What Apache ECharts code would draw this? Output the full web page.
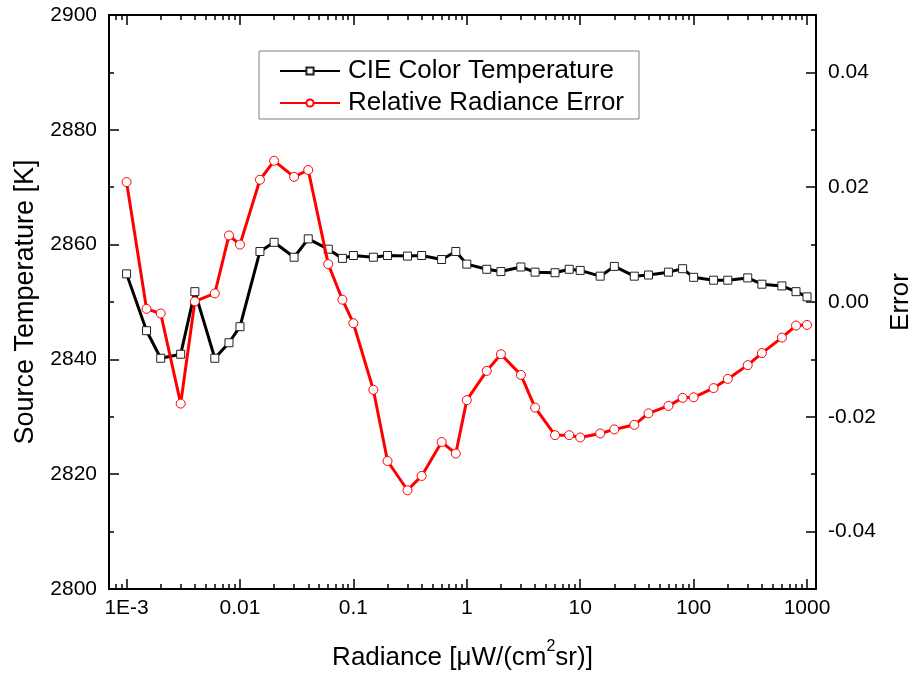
<!DOCTYPE html>
<html>
<head>
<meta charset="utf-8">
<script src="https://cdn.jsdelivr.net/npm/echarts@6/dist/echarts.min.js"></script>
<style>
html,body{margin:0;padding:0;background:#fff;overflow:hidden;}
#chart{width:913px;height:673px;}
</style>
</head>
<body>
<div id="chart"></div>
<script>
// ---- data ----
var radiance = [0.001,0.0015,0.002,0.003,0.004,0.006,0.008,0.01,0.015,0.02,0.03,0.04,0.06,0.08,0.1,0.15,0.2,0.3,0.4,0.6,0.8,1,1.5,2,3,4,6,8,10,15,20,30,40,60,80,100,150,200,300,400,600,800,1000];
var cieTemperature = [2854.9,2845.0,2840.2,2840.9,2851.8,2840.2,2842.9,2845.7,2858.8,2860.4,2857.8,2861.0,2859.2,2857.6,2858.1,2857.8,2858.1,2858.0,2858.1,2857.4,2858.8,2856.6,2855.7,2855.3,2856.1,2855.2,2855.1,2855.7,2855.5,2854.5,2856.2,2854.5,2854.7,2855.2,2855.8,2854.3,2853.8,2853.8,2854.2,2853.1,2852.8,2851.8,2850.9];
var radianceError = [0.0209,-0.0012,-0.0020,-0.0177,0.0001,0.0015,0.0116,0.0100,0.0213,0.0246,0.0218,0.0230,0.0066,0.0004,-0.0037,-0.0153,-0.0277,-0.0328,-0.0303,-0.0244,-0.0264,-0.0171,-0.0120,-0.0091,-0.0127,-0.0184,-0.0232,-0.0232,-0.0236,-0.0229,-0.0222,-0.0214,-0.0194,-0.0181,-0.0167,-0.0166,-0.0150,-0.0134,-0.0110,-0.0089,-0.0062,-0.0041,-0.0040];
var xTickValues = [0.001,0.01,0.1,1,10,100,1000];
var xTickLabels = ['1E-3','0.01','0.1','1','10','100','1000'];
var errTickValues = [-0.04,-0.02,0,0.02,0.04];
var errTickLabels = ['-0.04','-0.02','0.00','0.02','0.04'];
var seriesNames = ['CIE Color Temperature','Relative Radiance Error'];

// ---- layout ----
var X_MIN = 0.0007, X_MAX = 1200;
var minorX = [];
[0.0001,0.001,0.01,0.1,1,10,100,1000].forEach(function(d){
  for (var k=2;k<=9;k++){ var v=+(d*k).toPrecision(3); if (v>=X_MIN && v<=X_MAX) minorX.push(v); }
});
var minorErr = [-0.05,-0.03,-0.01,0.01,0.03,0.05];
var FONT = 'Arial, "Liberation Sans", sans-serif';
var lineC = '#000';

function xAxisBase(pos, major, showLine){
  return {
    type:'log', logBase:10, min:X_MIN, max:X_MAX, position:pos, gridIndex:0,
    axisLine:{show:showLine, onZero:false, lineStyle:{color:lineC,width:2}},
    axisTick:{show:true, inside:true, length: major?10:5, lineStyle:{color:lineC,width:1.5},
      customValues: major?xTickValues:minorX},
    axisLabel:{show:false},
    splitLine:{show:false}, minorTick:{show:false}, minorSplitLine:{show:false}
  };
}
var xMain = xAxisBase('bottom', true, true);
xMain.axisLabel = {show:true, customValues:xTickValues, margin:9, color:'#000', fontFamily:FONT, fontSize:21,
  formatter:function(v){ for (var i=0;i<xTickValues.length;i++){ if (Math.abs(Math.log10(v)-Math.log10(xTickValues[i]))<1e-6) return xTickLabels[i]; } return ''; }};
xMain.name = 'Radiance [μW/(cm{sup|2}sr)]';
xMain.nameLocation = 'middle';
xMain.nameGap = 50;
xMain.nameTextStyle = {color:'#000', fontFamily:FONT, fontSize:26,
  rich:{sup:{fontSize:16, fontFamily:FONT, color:'#000', padding:[0,0,22,0]}}};

var option = {
  animation:false,
  backgroundColor:'#fff',
  grid:{left:109, right:97, top:15, bottom:84, containLabel:false, outerBoundsMode:'none'},
  legend:{
    left:259, top:51, orient:'vertical',
    data:seriesNames,
    itemWidth:60, itemHeight:9, itemGap:6,
    padding:[7,15,3,20],
    borderColor:'#7f7f7f', borderWidth:1,
    textStyle:{color:'#000', fontFamily:FONT, fontSize:26, lineHeight:26, padding:[0,0,0,3]}
  },
  xAxis:[xMain, xAxisBase('bottom', false, false), xAxisBase('top', true, true), xAxisBase('top', false, false)],
  yAxis:[
    {type:'value', min:2800, max:2900, interval:20, position:'left',
      axisLine:{show:true, onZero:false, lineStyle:{color:lineC,width:2}},
      axisTick:{show:true, inside:true, length:10, lineStyle:{color:lineC,width:1.5}},
      minorTick:{show:true, splitNumber:2, length:5, lineStyle:{color:lineC,width:1.5}},
      axisLabel:{color:'#000', fontFamily:FONT, fontSize:21, margin:12, formatter:function(v){return String(v);}},
      splitLine:{show:false},
      name:'Source Temperature [K]', nameLocation:'middle', nameRotate:90, nameGap:57,
      nameTextStyle:{color:'#000', fontFamily:FONT, fontSize:27}
    },
    {type:'value', min:-0.05, max:0.05, position:'right',
      axisLine:{show:true, onZero:false, lineStyle:{color:lineC,width:2}},
      axisTick:{show:true, inside:true, length:10, customValues:errTickValues, lineStyle:{color:lineC,width:1.5}},
      axisLabel:{show:true, customValues:errTickValues, color:'#000', fontFamily:FONT, fontSize:21, margin:12,
        formatter:function(v){ for (var i=0;i<errTickValues.length;i++){ if (Math.abs(v-errTickValues[i])<1e-9) return errTickLabels[i]; } return ''; }},
      splitLine:{show:false},
      name:'Error', nameLocation:'middle', nameRotate:90, nameGap:72,
      nameTextStyle:{color:'#000', fontFamily:FONT, fontSize:26}
    },
    {type:'value', min:-0.05, max:0.05, position:'right',
      axisLine:{show:false, onZero:false},
      axisTick:{show:true, inside:true, length:5, customValues:minorErr, lineStyle:{color:lineC,width:1.5}},
      axisLabel:{show:false}, splitLine:{show:false}
    }
  ],
  series:[
    {name:seriesNames[0], type:'line', xAxisIndex:0, yAxisIndex:0,
      data: radiance.map(function(x,i){return [x, cieTemperature[i]];}),
      symbol:'rect', symbolSize:8, showAllSymbol:true,
      lineStyle:{color:'#000', width:3},
      itemStyle:{color:'#fff', borderColor:'#222', borderWidth:1},
      z:2},
    {name:seriesNames[1], type:'line', xAxisIndex:0, yAxisIndex:1,
      data: radiance.map(function(x,i){return [x, radianceError[i]];}),
      symbol:'circle', symbolSize:9, showAllSymbol:true,
      lineStyle:{color:'#ff0000', width:3},
      itemStyle:{color:'#fff', borderColor:'#ff0000', borderWidth:1},
      z:3}
  ]
};
var chart = echarts.init(document.getElementById('chart'), null, {renderer:'canvas'});
chart.setOption(option);
</script>
</body>
</html>
